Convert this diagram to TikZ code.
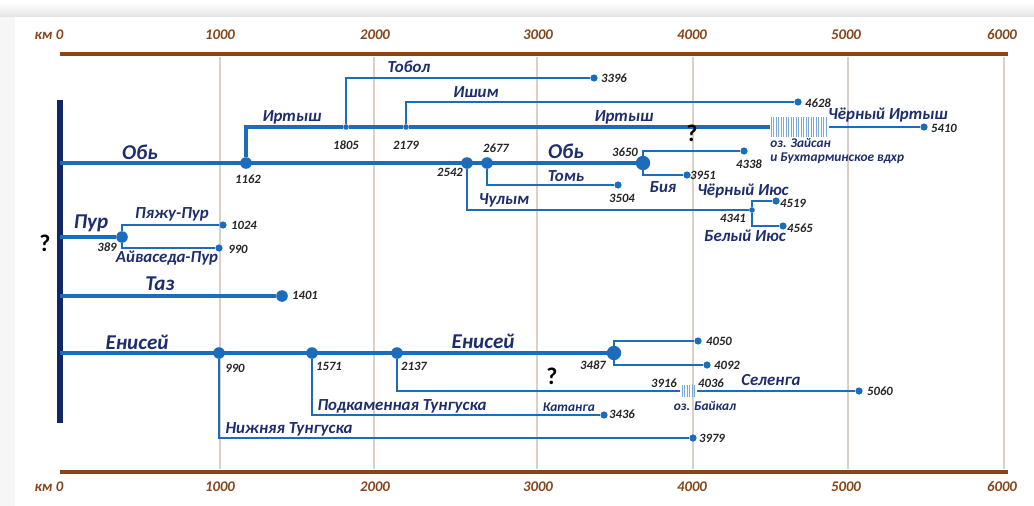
\documentclass[tikz,border=0pt]{standalone}
\usepackage{fontspec}
\setmainfont{Carlito}

\definecolor{riverblue}{RGB}{28,108,188}
\definecolor{hatchblue}{RGB}{120,170,215}
\definecolor{namenavy}{RGB}{30,45,110}
\definecolor{barnavy}{RGB}{15,40,100}
\definecolor{kmbrown}{RGB}{135,70,25}
\definecolor{gridtan}{RGB}{218,208,198}

\tikzset{
    trunk/.style={riverblue, line width=3.5pt},
    mid/.style={riverblue, line width=2.8pt},
    riv/.style={riverblue, line width=1.8pt},
    hatch/.style={hatchblue, line width=0.6pt},
    axis/.style={kmbrown, line width=3.5pt},
    grid/.style={gridtan, line width=0.8pt},
    dot/.style={circle, fill=riverblue, inner sep=0pt, minimum size=0.18cm},
    bigdot/.style={dot, minimum size=0.29cm},
    tinydot/.style={dot, minimum size=0.14cm},
    bigname/.style={text=namenavy, inner sep=0pt, font=\fontsize{15}{16}\selectfont\bfseries\itshape},
    rname/.style={text=namenavy, inner sep=0pt, font=\fontsize{12}{13}\selectfont\bfseries\itshape},
    smallname/.style={text=namenavy, inner sep=0pt, font=\fontsize{9.5}{10}\selectfont\bfseries\itshape},
    num/.style={text=black!85, inner sep=0pt, font=\fontsize{9}{10}\selectfont\bfseries\itshape},
    kmlabel/.style={text=kmbrown, inner sep=0pt, font=\fontsize{10.5}{11}\selectfont\bfseries\itshape},
    ask/.style={inner sep=0pt, font=\fontsize{17}{18}\selectfont\bfseries}
}

\begin{document}
\begin{tikzpicture}[x=0.025cm, y=-0.025cm]

    % panel
    \useasboundingbox (0,0) rectangle (1034,506);
    \shade[top color=white, bottom color=gray!22] (0,3) rectangle (1034,17);
    \fill[gray!7] (0,17) rectangle (15,506);
    \fill[white] (15,17) rectangle (1034,506);

    % draw grid and axes
    \foreach \x in {220,374,537,693,848,1004}
        \draw[grid] (\x,57) -- (\x,469);
    \foreach \y in {54,472}
        \draw[axis] (60,\y) -- (1008,\y);
    \foreach [count=\i] \x/\t in {49/км 0, 220/1000, 375/2000, 538/3000, 692/4000, 846/5000, 1002/6000} {
        \node[kmlabel] (kt\i) at (\x,35) {\t};
        \node[kmlabel] (kb\i) at (\x,487) {\t};
    }
    \draw[barnavy, line width=4.2pt] (60,100) -- (60,423);

    % draw junctions and ends
    \foreach \n/\x/\y in {ob/60/163, pur/60/237, taz/60/296, yen/60/353,
            zaisanW/770/127, zaisanE/829/127, baikalW/680/391, baikalE/697/391}
        \coordinate (\n) at (\x,\y);
    \foreach \n/\x/\y in {n1162/246/163, n2542/467/163, n2677/487/163, n389/122/237,
            e1401/282/296, y990/219/353, y1571/312/353, y2137/397/353}
        \node[bigdot] (\n) at (\x,\y) {};
    \foreach \n/\x/\y in {n3650/643/163, y3487/614/353}
        \node[bigdot, minimum size=0.36cm] (\n) at (\x,\y) {};
    \foreach \n/\x/\y in {e3396/594/78, e4628/798/102, e5410/924/127, e3504/618/185,
            e4338/744/151, e3951/687/175, e4519/776/201, e4565/783/226,
            e1024/223/225, e990p/219/248, e4050/698/341, e4092/707/365,
            e5060/859/391, e3436/604/415, e3979/693/438}
        \node[dot] (\n) at (\x,\y) {};
    \foreach \n/\x/\y in {i1805/346/127, i2179/406/127, j4341/752/210}
        \node[tinydot] (\n) at (\x,\y) {};

    % draw lakes
    \foreach \i in {0,...,22}
        \draw[hatch] ({771+2.5*\i},117) -- ({771+2.5*\i},137);
    \foreach \i in {0,...,5}
        \draw[hatch] ({682+2.5*\i},385) -- ({682+2.5*\i},397);

    % draw rivers
    \draw[trunk] (ob) -- (n3650);
    \draw[trunk] (yen) -- (y3487);
    \draw[mid] (pur) -- (n389);
    \draw[mid] (taz) -- (e1401);
    \draw[riv, line width=2.2pt] (n1162) |- (i1805) -- (i2179) -- (zaisanW);
    \foreach \a/\b in {i1805/e3396, i2179/e4628, n2677/e3504, n2542/j4341,
            j4341/e4519, j4341/e4565, n3650/e4338, n3650/e3951,
            n389/e1024, n389/e990p, y3487/e4050, y3487/e4092,
            y2137/baikalW, y1571/e3436, y990/e3979}
        \draw[riv] (\a) |- (\b);
    \draw[riv] (zaisanE) -- (e5410);
    \draw[riv] (baikalE) -- (e5060);

    % draw labels
    \foreach \n/\x/\y/\t in {ob1/140/152/Обь, ob2/566/151/Обь, pu/91/223/Пур,
            ta/160/284/Таз, ye1/137/342/Енисей, ye2/483/341/Енисей}
        \node[bigname] (l\n) at (\x,\y) {\t};
    \foreach \n/\x/\y/\t in {irt1/292/117/Иртыш, irt2/624/117/Иртыш, tob/409/67/Тобол,
            ish/476/92/Ишим, tom/566/176/Томь, chul/504/200/Чулым, biya/663/187/Бия,
            cirt/888/115/Чёрный Иртыш, ciyus/743/191/Чёрный Июс, biyus/745/236/Белый Июс,
            pyazh/172/214/Пяжу-Пур, aiv/167/258/Айваседа-Пур, sel/771/380/Селенга,
            podk/402/406/Подкаменная Тунгуска, nizh/289/429/Нижняя Тунгуска}
        \node[rname] (l\n) at (\x,\y) {\t};
    \node[smallname] (lkat) at (569,407) {Катанга};
    \node[smallname] (lbaik) at (705,406) {оз. Байкал};
    \node[smallname, anchor=west] (lzais) at (770,143) {оз. Зайсан};
    \node[smallname, anchor=west] (lbuht) at (770,158) {и Бухтарминское вдхр};
    \foreach \n/\x/\y/\t in {a/248/179/1162, b/346/145/1805, c/406/145/2179, d/450/172/2542,
            e/496/148/2677, f/625/152/3650, g/614/78/3396, h/818/103/4628, i/944/128/5410,
            j/749/164/4338, k/703/175/3951, l/622/198/3504, m/793/203/4519, n/800/228/4565,
            o/733/218/4341, p/244/225/1024, q/238/249/990, r/107/247/389, s/305/295/1401,
            t/235/368/990, u/329/366/1571, v/414/366/2137, w/593/365/3487, x/719/341/4050,
            y/727/365/4092, z/664/383/3916, aa/711/383/4036, ab/880/391/5060,
            ac/622/414/3436, ad/712/438/3979}
        \node[num] (k\n) at (\x,\y) {\t};
    \foreach \n/\x/\y in {1/45/243, 2/692/133, 3/552/376}
        \node[ask] (q\n) at (\x,\y) {?};

\end{tikzpicture}
\end{document}
